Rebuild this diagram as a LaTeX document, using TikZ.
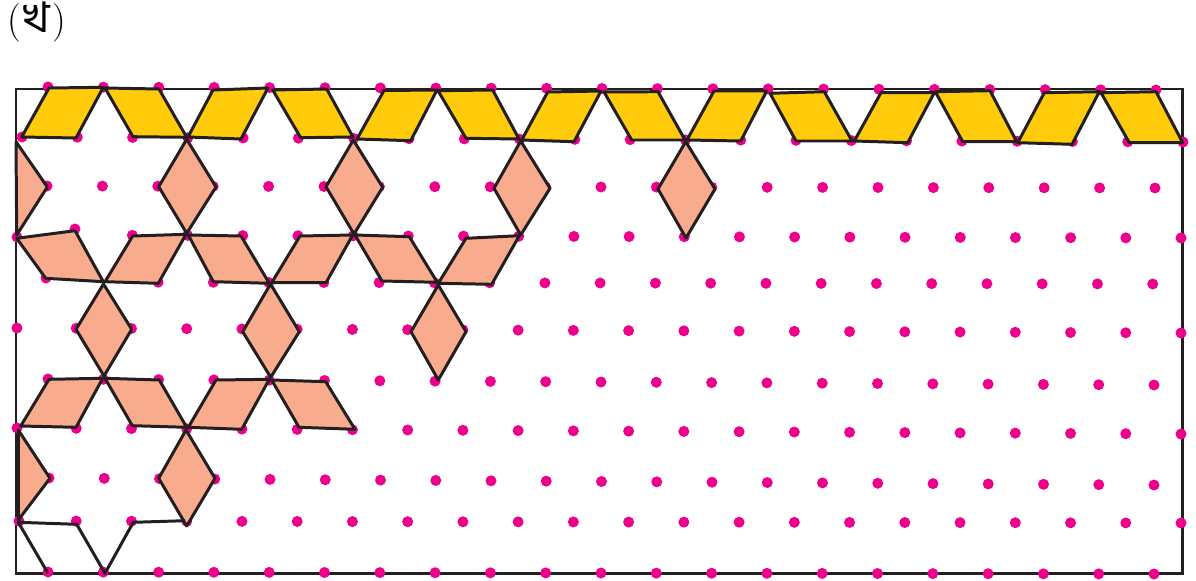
\documentclass[tikz,border=0pt]{standalone}
\usepackage{fontspec}
\newfontfamily\bengfont[Script=Bengali]{Hind Siliguri}
\definecolor{ink}{HTML}{231F20}
\definecolor{pinkdot}{HTML}{EC008C}
\definecolor{gold}{HTML}{FFCB0B}
\definecolor{salmon}{HTML}{F9AB8E}
\tikzset{
	frameline/.style = {draw = ink, line width = 1.7pt},
	tile/.style = {draw = ink, line width = 1.7pt, line join = round},
	goldtile/.style = {tile, fill = gold},
	salmontile/.style = {tile, fill = salmon},
	griddot/.style = {fill = pinkdot}
}
\begin{document}
\begin{tikzpicture} [x = 0.02cm, y = -0.02cm]
	\useasboundingbox (0,0) rectangle (1196,581);
	\node (caption) [inner sep = 0, anchor = base west, font = \fontsize{22}{22}\selectfont] at (7,33) {(\kern1.5pt{\bengfont\fontsize{24}{24}\selectfont খ}\kern1.5pt)};
	\draw [frameline] (16,89) rectangle (1182.7,573.3);
	% dot rows: first x / last x / first y / last y / steps / first index
	\foreach \xa/\xb/\ya/\yb/\n/\s in {
		48/1156/87/90/20/0, 22/1183/137/142/21/0, 47/1155/186/188/20/0,
		22/1181/235/238/21/2, 47.6/1152.7/282/284/20/2, 21/1181/328/333/21/1,
		48/1154/379/385/20/0, 21/1181/428/434/21/1, 49/1154/478/485/20/0,
		21/1181/521/523/21/1, 48/1154/572/574/20/0}
		\foreach \i in {\s,...,\n}
			\fill [griddot] ({\xa+(\xb-\xa)/\n*\i},{\ya+(\yb-\ya)/\n*\i}) circle [radius = 5.5];
	% dots that sit off their rows
	\foreach \p in {(17,237),(75,229),(46,278),(17,328),(17,428),(19,521)}
		\fill [griddot] \p circle [radius = 5.5];
	% gold band
	\draw [goldtile] (21.7,137) -- (49,88) -- (103.3,87.3) -- (76,138) -- cycle;
	\draw [goldtile] (105,88) -- (159,89) -- (186.7,137.3) -- (133,136.7) -- cycle;
	\draw [goldtile] (188,137) -- (213,90) -- (268,88) -- (241,139) -- cycle;
	\draw [goldtile] (272.7,90) -- (326.7,89) -- (353,137) -- (300.7,137.7) -- cycle;
	\draw [goldtile] (357,139) -- (384,90.5) -- (437,90) -- (410.7,140.7) -- cycle;
	\draw [goldtile] (438,90.7) -- (492.7,90) -- (519,139) -- (466,138.3) -- cycle;
	\draw [goldtile] (521.7,140) -- (547.7,92) -- (601,91) -- (574,141.7) -- cycle;
	\draw [goldtile] (604,92) -- (658,91.7) -- (685,140) -- (631.7,140) -- cycle;
	\draw [goldtile] (687,140) -- (714,91) -- (766.7,91) -- (740.7,141) -- cycle;
	\draw [goldtile] (770,93.3) -- (824.3,91.7) -- (852,141) -- (796,141) -- cycle;
	\draw [goldtile] (854.3,141) -- (881,92.7) -- (934.3,92.7) -- (907.7,142.7) -- cycle;
	\draw [goldtile] (935.3,91.7) -- (990,90.7) -- (1016.7,141.7) -- (962.7,141.7) -- cycle;
	\draw [goldtile] (1017.7,142.7) -- (1044.3,92.7) -- (1099.3,91.7) -- (1072,144.3) -- cycle;
	\draw [goldtile] (1101,92.7) -- (1156,91.7) -- (1182.7,142.7) -- (1129.3,142.7) -- cycle;
	% salmon rhombi
	\draw [salmontile] (16,141.7) -- (47.3,187) -- (16.7,235) -- cycle;
	\draw [salmontile] (186.7,139.3) -- (216,187) -- (186.7,233.3) -- (158.7,186.7) -- cycle;
	\draw [salmontile] (353.3,140) -- (382.7,187.3) -- (354,234) -- (326,186.7) -- cycle;
	\draw [salmontile] (520.7,141) -- (550,188.3) -- (520.7,235) -- (494,188.3) -- cycle;
	\draw [salmontile] (685.7,141.7) -- (715,189) -- (686,238) -- (658,189) -- cycle;
	\draw [salmontile] (103.5,284) -- (131.7,329.3) -- (104,376) -- (76,329.3) -- cycle;
	\draw [salmontile] (270.5,284) -- (299.3,331.7) -- (270.7,377.3) -- (242.7,331.7) -- cycle;
	\draw [salmontile] (438.3,285) -- (466,331.7) -- (438.3,380) -- (411,331.7) -- cycle;
	\draw [salmontile] (186,430) -- (215,478.3) -- (186.7,526) -- (158.7,478.3) -- cycle;
	\draw [salmontile] (18.3,430) -- (50,478.3) -- (18.3,520) -- cycle;
	% salmon parallelograms
	\draw [salmontile] (16.7,238.3) -- (75,230.7) -- (103.3,281.7) -- (45.7,278.3) -- cycle;
	\draw [salmontile] (105,281.7) -- (132.7,236) -- (186,234.3) -- (158.3,283.3) -- cycle;
	\draw [salmontile] (188.3,235) -- (241,236) -- (269.3,283.3) -- (213.3,281.7) -- cycle;
	\draw [salmontile] (271.7,282.7) -- (300,236) -- (352.7,235) -- (326,282.7) -- cycle;
	\draw [salmontile] (355,235) -- (409.3,236.7) -- (437.3,282.3) -- (382,281) -- cycle;
	\draw [salmontile] (438.3,283.3) -- (466,238.3) -- (519.3,235.7) -- (491.7,284.3) -- cycle;
	\draw [salmontile] (20.7,426) -- (49,379.3) -- (102.7,378.3) -- (76,427.3) -- cycle;
	\draw [salmontile] (105,378.3) -- (159.3,380) -- (186.7,427.3) -- (132.3,425.7) -- cycle;
	\draw [salmontile] (188.3,427.3) -- (216,380) -- (269.3,379.3) -- (241.7,429.3) -- cycle;
	\draw [salmontile] (271.7,380) -- (325.7,381.7) -- (355,429.3) -- (299,427.3) -- cycle;
	% open outline at the bottom
	\draw [tile] (48,573.3) -- (18.3,522.3) -- (76.7,524.3) -- (105,573.3) -- (133.3,522.3) -- (185,520.7);
\end{tikzpicture}
\end{document}
